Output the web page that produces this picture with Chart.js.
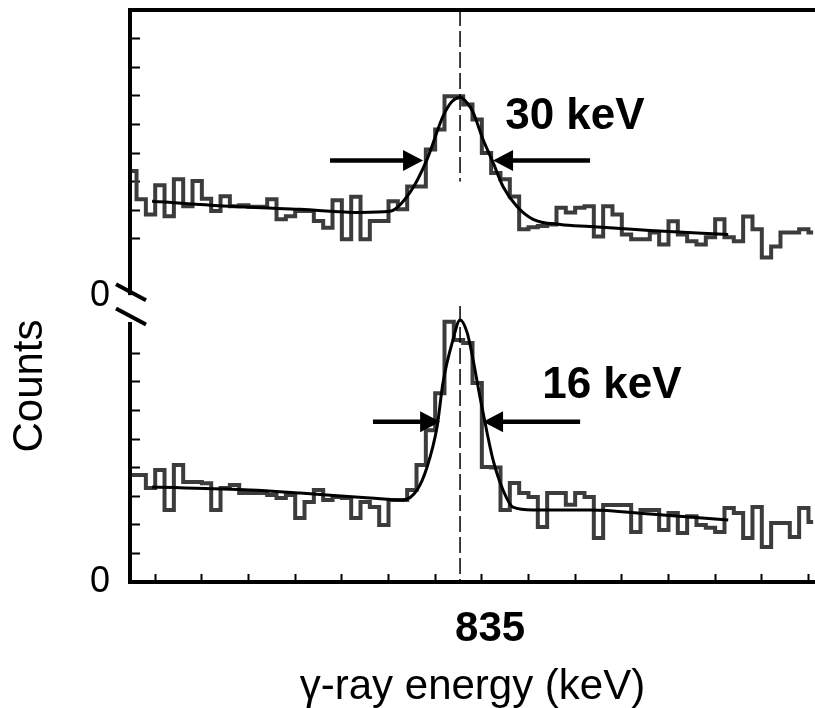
<!DOCTYPE html>
<html>
<head>
<meta charset="utf-8">
<script src="https://cdn.jsdelivr.net/npm/chart.js@4.4.1/dist/chart.umd.min.js"></script>
<style>
html,body{margin:0;padding:0;background:#fff;overflow:hidden}
#wrap{width:815px;height:708px;position:relative}
</style>
</head>
<body>
<div id="wrap"><canvas id="c"></canvas></div>
<script>
// ---------------- data ----------------
const firstBinCenter = 729.5;   // keV
const binWidth = 3;             // keV
const axisMin = 728.9;
const axisMax = 949.1;
const peakEnergy = 835;
const upperOffset = 10;         // upper spectrum zero on the broken axis

const upperCounts = [4.37, 3.38, 2.85, 3.87, 2.79, 4.08, 3.14, 4.02, 3.40, 2.97,
  3.49, 3.14, 3.17, 3.12, 3.12, 3.38, 2.68, 2.79, 2.97, 2.97,
  2.62, 2.39, 3.35, 1.98, 3.47, 1.98, 2.62, 2.62, 3.31, 3.03,
  3.83, 3.83, 5.12, 5.82, 6.98, 6.98, 6.70, 6.17, 5.00, 4.30,
  4.08, 3.48, 2.33, 2.40, 2.45, 2.50, 3.09, 2.92, 3.09, 3.14,
  2.08, 3.14, 2.85, 2.15, 1.98, 1.98, 2.22, 1.80, 2.61, 2.15,
  1.91, 1.80, 2.05, 2.68, 2.05, 1.91, 2.78, 2.33, 1.35, 1.73,
  2.22, 2.22, 2.33, 2.22];

const lowerCounts = [3.74, 3.74, 3.29, 3.92, 2.52, 4.09, 3.50, 3.50, 3.45, 2.52,
  3.29, 3.39, 3.11, 3.11, 3.11, 3.04, 2.94, 3.04, 2.24, 2.80,
  3.22, 2.87, 2.97, 2.94, 2.24, 2.80, 2.62, 1.99, 2.87, 2.87,
  3.22, 4.09, 5.31, 6.60, 9.10, 8.46, 8.36, 6.96, 4.02, 4.00,
  2.52, 3.46, 3.11, 2.97, 1.92, 3.11, 3.11, 2.70, 3.11, 2.97,
  1.54, 2.69, 2.69, 2.69, 1.75, 2.52, 2.52, 1.82, 2.41, 1.71,
  2.30, 1.99, 1.90, 1.75, 2.59, 2.41, 1.54, 2.62, 1.22, 2.06,
  2.06, 1.57, 2.59, 2.10];

const upperFitEnergy = [736.0, 767.5, 783.6, 802.8, 812.5, 818.9, 824.4, 829.5, 832.4, 835.0, 837.3, 839.2, 842.4, 845.6, 848.8, 853.3, 858.5, 867.2, 876.8, 896.1, 921.2];
const upperFitCounts = [3.31, 3.10, 3.03, 2.92, 2.96, 3.62, 4.78, 6.28, 6.80, 6.94, 6.75, 6.42, 5.47, 4.67, 3.83, 3.13, 2.68, 2.50, 2.43, 2.29, 2.15];

const lowerFitEnergy = [736.0, 767.5, 783.6, 806.1, 816.7, 821.2, 824.4, 827.6, 829.5, 832.7, 835.0, 837.3, 839.2, 841.4, 843.7, 845.6, 848.8, 852.0, 858.5, 876.8, 896.1, 921.2];
const lowerFitCounts = [3.32, 3.22, 3.11, 2.94, 2.87, 3.22, 4.02, 5.42, 6.96, 8.46, 9.16, 8.71, 7.76, 6.47, 5.21, 4.27, 3.22, 2.62, 2.52, 2.52, 2.38, 2.17];

const energyTicks = [737, 752, 767, 782, 797, 812, 827, 842, 857, 872, 887, 902, 917, 932, 947];
const countTickValues = [0,1,2,3,4,5,6,7,8,9,10,11,12,13,14,15,16,17,18,19,20];
const hiddenTickValues = [0, 9, 10, 11, 20];
const zeroLabelValues = [0, upperOffset];

// axis break
const breakGap = [9.09, 10.03];
const breakMarks = [10.13, 9.28];

// peak marker (dashed), absolute axis values
const markerSpans = [[20, 14.0], [9.65, 0]];

// FWHM arrows: [upper, lower]
const arrowOffsets = [upperOffset, 0];
const arrowLevels = [4.74, 5.60];
const arrowLeftTail = [793.2, 807.0];
const arrowLeftTip = [823.1, 828.6];
const arrowRightTip = [845.6, 842.4];
const arrowRightTail = [876.8, 873.6];
const fwhmLabels = ['30 keV', '16 keV'];
const fwhmLabelEnergy = [849.5, 861.4];
const fwhmLabelLevel = [5.83, 6.43];

// ---------------- chart ----------------
const FONT = "'Liberation Sans', Arial, Helvetica, sans-serif";
const binCenters = upperCounts.map((_, i) => firstBinCenter + i * binWidth);
const pts = (xs, ys, off) => xs.map((x, i) => ({x: x, y: ys[i] + off}));
const noPad = s => { s.paddingTop = 0; s.paddingBottom = 0; s.paddingLeft = 0; s.paddingRight = 0; };

const decorations = {
  id: 'decorations',
  afterDraw(chart) {
    const ctx = chart.ctx;
    const xs = chart.scales.x, ys = chart.scales.y;
    const axisX = ys.right;
    ctx.save();
    // axis break gap
    const gTop = ys.getPixelForValue(breakGap[1]);
    const gBot = ys.getPixelForValue(breakGap[0]);
    ctx.fillStyle = '#fff';
    ctx.fillRect(axisX - 4, gTop, 8, gBot - gTop);
    ctx.strokeStyle = '#000';
    ctx.lineWidth = 4;
    breakMarks.forEach(v => {
      const cy = ys.getPixelForValue(v);
      ctx.beginPath();
      ctx.moveTo(axisX - 14, cy - 8);
      ctx.lineTo(axisX + 16, cy + 8);
      ctx.stroke();
    });
    // arrows
    ctx.fillStyle = '#000';
    const arrow = (x0, x1, yy) => {
      const dir = Math.sign(x1 - x0);
      const hl = 20, hh = 10.5;
      ctx.lineWidth = 4.5;
      ctx.beginPath();
      ctx.moveTo(x0, yy);
      ctx.lineTo(x1 - dir * hl * 0.8, yy);
      ctx.stroke();
      ctx.beginPath();
      ctx.moveTo(x1, yy);
      ctx.lineTo(x1 - dir * hl, yy - hh);
      ctx.lineTo(x1 - dir * hl, yy + hh);
      ctx.closePath();
      ctx.fill();
    };
    arrowLevels.forEach((lv, i) => {
      const yy = ys.getPixelForValue(arrowOffsets[i] + lv);
      arrow(xs.getPixelForValue(arrowLeftTail[i]), xs.getPixelForValue(arrowLeftTip[i]), yy);
      arrow(xs.getPixelForValue(arrowRightTail[i]), xs.getPixelForValue(arrowRightTip[i]), yy);
    });
    // FWHM labels
    ctx.font = 'bold 44px ' + FONT;
    ctx.textAlign = 'left';
    ctx.textBaseline = 'alphabetic';
    fwhmLabels.forEach((t, i) => {
      ctx.fillText(t, xs.getPixelForValue(fwhmLabelEnergy[i]), ys.getPixelForValue(arrowOffsets[i] + fwhmLabelLevel[i]));
    });
    // y-axis title
    ctx.translate(30, 386);
    ctx.rotate(-Math.PI / 2);
    ctx.font = '42px ' + FONT;
    ctx.textAlign = 'center';
    ctx.textBaseline = 'middle';
    ctx.fillText('Counts', 0, 0);
    ctx.restore();
  }
};

const datasets = [
  { label: 'upper fit', data: pts(upperFitEnergy, upperFitCounts, upperOffset), borderColor: '#000', borderWidth: 3, pointRadius: 0, cubicInterpolationMode: 'monotone', fill: false },
  { label: 'lower fit', data: pts(lowerFitEnergy, lowerFitCounts, 0), borderColor: '#000', borderWidth: 3, pointRadius: 0, cubicInterpolationMode: 'monotone', fill: false }
];
markerSpans.forEach((s, i) => datasets.push({
  label: 'marker ' + i, data: [{x: peakEnergy, y: s[0]}, {x: peakEnergy, y: s[1]}],
  borderColor: '#000', borderWidth: 1.5, borderDash: [16, 5], pointRadius: 0, fill: false
}));
datasets.push(
  { label: 'upper spectrum', data: pts(binCenters, upperCounts, upperOffset), stepped: 'middle', borderColor: '#3c3c3c', borderWidth: 4, pointRadius: 0, fill: false },
  { label: 'lower spectrum', data: pts(binCenters, lowerCounts, 0), stepped: 'middle', borderColor: '#3c3c3c', borderWidth: 4, pointRadius: 0, fill: false }
);

new Chart(document.getElementById('c'), {
  type: 'line',
  data: { datasets: datasets },
  plugins: [decorations],
  options: {
    responsive: true,
    maintainAspectRatio: false,
    animation: false,
    events: [],
    layout: { padding: { top: 8, right: 0, bottom: 0, left: 0 } },
    plugins: { legend: { display: false }, tooltip: { enabled: false }, title: { display: false } },
    scales: {
      x: {
        type: 'linear', position: 'bottom', min: axisMin, max: axisMax, bounds: 'data', weight: 0,
        afterBuildTicks: s => { s.ticks = energyTicks.map(v => ({value: v})); },
        afterFit: s => { s.height = 2; noPad(s); },
        ticks: { display: false },
        grid: { drawOnChartArea: false, drawTicks: true, tickLength: -8, tickWidth: 2, tickColor: '#000' },
        border: { display: true, color: '#000', width: 4 }
      },
      xLabel: {
        type: 'linear', position: 'bottom', min: axisMin, max: axisMax, bounds: 'data', weight: 1,
        afterBuildTicks: s => { s.ticks = [{value: peakEnergy}]; },
        afterFit: s => { s.height = 124; noPad(s); },
        ticks: { autoSkip: false, maxRotation: 0, padding: 20, labelOffset: 30, color: '#000',
                 font: { family: FONT, size: 42, weight: 'bold' }, callback: v => String(v) },
        grid: { display: false, drawTicks: false },
        border: { display: false },
        title: { display: true, text: 'γ-ray energy (keV)', color: '#000',
                 font: { family: FONT, size: 42, lineHeight: 1 }, padding: { top: 0, bottom: 0 } }
      },
      x2: {
        type: 'linear', position: 'top', min: axisMin, max: axisMax, bounds: 'data',
        afterFit: s => { s.height = 2; noPad(s); },
        ticks: { display: false },
        grid: { drawOnChartArea: false, drawTicks: false },
        border: { display: true, color: '#000', width: 4 }
      },
      y: {
        type: 'linear', position: 'left', min: 0, max: 20, bounds: 'data',
        afterBuildTicks: s => { s.ticks = countTickValues.map(v => ({value: v})); },
        afterFit: s => { s.width = 130; noPad(s); },
        ticks: { autoSkip: false, padding: 30, color: '#000', font: { family: FONT, size: 36 },
                 callback: v => zeroLabelValues.includes(v) ? '0' : '' },
        grid: { drawOnChartArea: false, tickLength: -10, tickWidth: 2,
                tickColor: c => (c.tick && hiddenTickValues.includes(c.tick.value)) ? 'rgba(0,0,0,0)' : '#000' },
        border: { display: true, color: '#000', width: 4 }
      }
    }
  }
});
</script>
</body>
</html>
